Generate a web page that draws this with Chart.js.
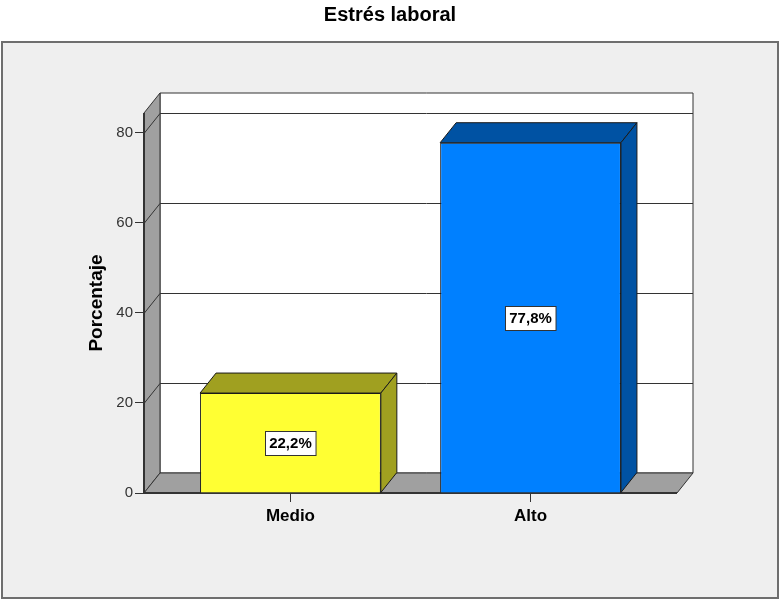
<!DOCTYPE html>
<html>
<head>
<meta charset="utf-8">
<script src="https://cdn.jsdelivr.net/npm/chart.js@4/dist/chart.umd.min.js"></script>
<style>
  body { margin: 0; background: #ffffff; }
  canvas { display: block; }
</style>
</head>
<body>
<canvas id="chart" width="780" height="600"></canvas>
<script>
// data
const categories = ['Medio', 'Alto'];
const percentages = [22.2, 77.8];
const yTicks = [0, 20, 40, 60, 80];

const frontColors = ['#FFFF33', '#0080FF'];
const sideColors = ['#A0A020', '#0052A3'];

// depth of the 3D effect
const DX = 16;
const DY = 20;
const lineColor = '#333333';
const wallGray = '#A0A0A0';
const fontFamily = '"Liberation Sans", Arial, sans-serif';

const ctx = document.getElementById('chart');

// formats 22.2 -> "22,2%"
function pctLabel(v) {
  return v.toFixed(1).replace('.', ',') + '%';
}

function poly(c, pts, fill, stroke) {
  c.beginPath();
  c.moveTo(pts[0][0], pts[0][1]);
  for (var i = 1; i < pts.length; i++) c.lineTo(pts[i][0], pts[i][1]);
  c.closePath();
  if (fill) { c.fillStyle = fill; c.fill(); }
  if (stroke) { c.strokeStyle = stroke; c.lineWidth = 1; c.stroke(); }
}

// FRAME, WALLS, BAR FACES AND LABELS
const box3d = {
  id: 'box3d',
  beforeDraw(chart) {
    const c = chart.ctx;
    c.save();
    c.fillStyle = '#EFEFEF';
    c.fillRect(2, 42, 776, 556);
    c.strokeStyle = '#6E6E6E';
    c.lineWidth = 2;
    c.strokeRect(2, 42, 776, 556);
    c.restore();
  },
  beforeDatasetsDraw(chart) {
    const c = chart.ctx;
    const a = chart.chartArea;
    const ys = chart.scales.y;
    const L = a.left, R = a.right, T = a.top, B = a.bottom;
    c.save();
    // back wall
    poly(c, [[L + DX, T - DY], [R + DX, T - DY], [R + DX, B - DY], [L + DX, B - DY]], '#FFFFFF', lineColor);
    // left wall
    poly(c, [[L, B], [L, T], [L + DX, T - DY], [L + DX, B - DY]], wallGray, lineColor);
    // floor
    poly(c, [[L, B], [R, B], [R + DX, B - DY], [L + DX, B - DY]], wallGray, lineColor);
    // grid lines on the walls
    c.strokeStyle = lineColor;
    c.lineWidth = 1;
    yTicks.forEach(function (v) {
      if (v === 0) return;
      const y = Math.round(ys.getPixelForValue(v)) + 0.5;
      c.beginPath();
      c.moveTo(L, y);
      c.lineTo(L + DX, y - DY);
      c.lineTo(R + DX, y - DY);
      c.stroke();
    });
    // front edges
    c.lineWidth = 2;
    c.beginPath();
    c.moveTo(L, T);
    c.lineTo(L, B);
    c.lineTo(R, B);
    c.stroke();
    c.restore();
  },
  afterDatasetsDraw(chart) {
    const c = chart.ctx;
    const meta = chart.getDatasetMeta(0);
    c.save();
    meta.data.forEach(function (bar, i) {
      const left = bar.x - bar.width / 2;
      const right = bar.x + bar.width / 2;
      // top face
      poly(c, [[left, bar.y], [right, bar.y], [right + DX, bar.y - DY], [left + DX, bar.y - DY]], sideColors[i], '#1A1A1A');
      // side face
      poly(c, [[right, bar.y], [right + DX, bar.y - DY], [right + DX, bar.base - DY], [right, bar.base]], sideColors[i], '#1A1A1A');
    });
    // value labels
    c.font = 'bold 15px ' + fontFamily;
    c.textAlign = 'center';
    c.textBaseline = 'middle';
    meta.data.forEach(function (bar, i) {
      const txt = pctLabel(percentages[i]);
      const w = c.measureText(txt).width + 8;
      const h = 24;
      const cy = (bar.y + bar.base) / 2;
      const x0 = Math.round(bar.x - w / 2) + 0.5;
      const y0 = Math.round(cy - h / 2) + 0.5;
      c.fillStyle = '#FFFFFF';
      c.fillRect(x0, y0, w, h);
      c.strokeStyle = '#333333';
      c.lineWidth = 1;
      c.strokeRect(x0, y0, w, h);
      c.fillStyle = '#000000';
      c.fillText(txt, bar.x, cy + 1);
    });
    c.restore();
  }
};

// CHART
var barChart = new Chart(ctx, {
  type: 'bar',
  data: {
    datasets: [{
      label: 'Estrés laboral',
      data: categories.map(function (cat, i) { return { x: i + 1, y: percentages[i] }; }),
      backgroundColor: frontColors,
      borderColor: '#1A1A1A',
      borderWidth: 1,
      barPercentage: 0.753,
      categoryPercentage: 1
    }]
  },
  options: {
    responsive: false,
    animation: false,
    layout: { padding: 0 },
    plugins: {
      legend: { display: false },
      tooltip: { enabled: false },
      title: {
        display: true,
        text: 'Estrés laboral',
        color: '#000000',
        font: { family: fontFamily, size: 20, weight: 'bold' },
        padding: { top: 3, bottom: 86 }
      }
    },
    scales: {
      x: {
        type: 'linear',
        min: 0.39,
        max: 2.61,
        offset: false,
        afterBuildTicks: function (s) {
          s.ticks = categories.map(function (cat, i) { return { value: i + 1 }; });
        },
        afterFit: function (s) { s.height = 107; },
        ticks: {
          autoSkip: false,
          maxRotation: 0,
          padding: 4,
          color: '#000000',
          font: { family: fontFamily, size: 17, weight: 'bold' },
          callback: function (v) { return categories[Math.round(v) - 1]; }
        },
        grid: { offset: false, drawOnChartArea: false, drawTicks: true, tickLength: 9, color: lineColor },
        border: { display: false }
      },
      y: {
        min: 0,
        max: 84.4,
        afterBuildTicks: function (s) {
          s.ticks = yTicks.map(function (v) { return { value: v }; });
        },
        afterFit: function (s) { s.width = 144; },
        ticks: {
          padding: 2,
          color: '#333333',
          font: { family: fontFamily, size: 15 }
        },
        grid: { drawOnChartArea: false, drawTicks: true, tickLength: 9, color: lineColor },
        border: { display: false },
        title: {
          display: true,
          text: 'Porcentaje',
          color: '#000000',
          padding: { top: 85, bottom: 0 },
          font: { family: fontFamily, size: 19, weight: 'bold' }
        }
      },
      // empty spacer on the right so the plot ends where the reference does
      spacer: {
        type: 'linear',
        position: 'right',
        display: true,
        ticks: { display: false },
        grid: { display: false },
        border: { display: false },
        afterFit: function (s) { s.width = 103; }
      }
    }
  },
  plugins: [box3d]
});
</script>
</body>
</html>
